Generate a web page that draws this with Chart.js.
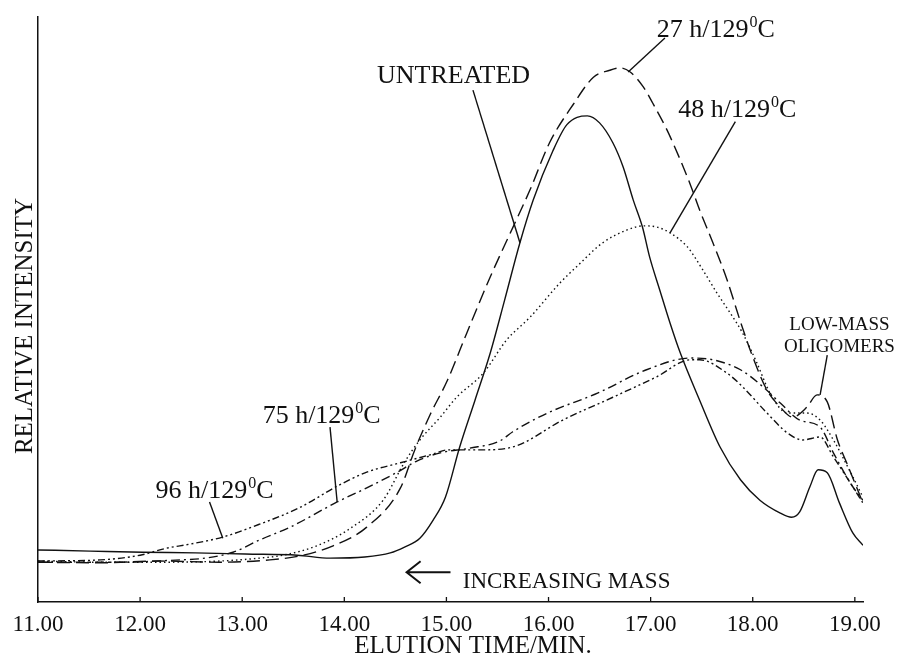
<!DOCTYPE html>
<html>
<head>
<meta charset="utf-8">
<title>Elution profiles</title>
<style>
  html, body { margin: 0; padding: 0; background: #fff; }
  canvas { display: block; }
</style>
<script src="https://cdn.jsdelivr.net/npm/chart.js@4.4.1/dist/chart.umd.min.js"></script>
</head>
<body>
<canvas id="gpc" width="900" height="659"></canvas>
<script>
// elution time (min) / relative intensity, one pair of arrays per sample
const untreatedTime = [11.00, 11.51, 12.03, 12.54, 13.03, 13.54, 13.86, 14.20, 14.45, 14.59, 14.74, 14.87, 14.99, 15.13, 15.28, 15.43, 15.57, 15.72, 15.85, 16.04, 16.18, 16.38, 16.50, 16.63, 16.73, 16.83, 16.92, 16.99, 17.09, 17.19, 17.29, 17.48, 17.68, 17.88, 18.07, 18.27, 18.38, 18.46, 18.56, 18.64, 18.73, 18.85, 18.98, 19.08];
const untreatedIntensity = [8.9, 8.7, 8.5, 8.4, 8.2, 8.0, 7.5, 7.7, 8.4, 9.4, 10.9, 14.0, 17.9, 26.5, 34.5, 42.6, 51.6, 61.4, 68.7, 77.0, 81.6, 83.1, 81.9, 78.5, 74.4, 68.7, 64.1, 59.0, 53.3, 47.7, 42.6, 34.5, 26.5, 20.9, 17.4, 15.2, 14.5, 15.4, 19.7, 22.6, 22.1, 16.9, 11.8, 9.7];

const h27Time = [11.00, 11.61, 12.19, 12.78, 13.27, 13.57, 13.89, 14.22, 14.55, 14.69, 14.84, 15.01, 15.20, 15.43, 15.65, 15.82, 16.01, 16.24, 16.44, 16.60, 16.70, 16.80, 16.93, 17.02, 17.16, 17.29, 17.39, 17.48, 17.61, 17.75, 17.88, 18.00, 18.14, 18.27, 18.39, 18.53, 18.63, 18.73, 18.83, 18.92, 19.08];
const h27Intensity = [6.8, 6.7, 7.0, 6.8, 7.2, 7.9, 9.6, 12.8, 19.5, 26.0, 32.0, 37.9, 46.0, 55.6, 64.0, 70.5, 78.5, 85.0, 89.7, 90.9, 91.3, 90.6, 88.0, 85.3, 80.7, 75.6, 71.3, 67.0, 61.4, 55.0, 47.9, 41.9, 36.2, 33.3, 31.6, 33.3, 35.4, 34.2, 27.7, 23.8, 16.9];

const h48Time = [11.00, 11.61, 12.19, 12.78, 13.17, 13.40, 13.73, 14.06, 14.38, 14.59, 14.74, 14.94, 15.10, 15.36, 15.59, 15.82, 16.11, 16.31, 16.53, 16.77, 16.93, 17.06, 17.19, 17.36, 17.51, 17.65, 17.78, 17.90, 18.04, 18.17, 18.34, 18.53, 18.66, 18.79, 18.98, 19.08];
const h48Intensity = [7.0, 6.8, 6.8, 7.0, 7.5, 8.0, 9.6, 12.6, 17.4, 23.9, 27.7, 31.6, 35.0, 39.1, 44.8, 48.7, 54.5, 57.9, 61.4, 63.6, 64.3, 64.1, 63.1, 60.7, 56.8, 52.8, 49.4, 46.0, 40.9, 35.7, 32.3, 32.3, 31.1, 27.7, 21.4, 17.9];

const h75Time = [11.00, 11.80, 12.39, 12.59, 12.91, 13.17, 13.47, 13.93, 14.22, 14.52, 14.71, 14.94, 15.23, 15.52, 15.65, 15.99, 16.48, 16.96, 17.39, 17.61, 17.88, 18.10, 18.27, 18.46, 18.66, 18.79, 18.98, 19.08];
const h75Intensity = [6.8, 6.8, 7.2, 7.4, 8.5, 10.6, 12.8, 17.1, 19.5, 22.2, 24.1, 25.5, 26.3, 27.5, 29.1, 32.3, 35.7, 39.7, 41.7, 41.4, 39.7, 36.8, 34.0, 31.1, 29.9, 25.5, 19.7, 17.4];

const h96Time = [11.00, 11.61, 12.00, 12.26, 12.49, 12.81, 13.17, 13.57, 13.93, 14.22, 14.55, 14.87, 15.01, 15.33, 15.65, 16.14, 16.63, 17.06, 17.39, 17.48, 17.75, 17.90, 18.14, 18.34, 18.49, 18.66, 18.79, 18.98, 19.08];
const h96Intensity = [7.0, 7.2, 8.0, 9.2, 9.9, 11.1, 13.3, 16.2, 19.8, 22.2, 23.8, 25.3, 26.0, 26.0, 26.5, 31.1, 35.0, 38.5, 41.4, 41.4, 39.1, 36.8, 32.3, 28.9, 27.7, 28.2, 24.8, 19.7, 16.9];

const xTickValues = [11, 12, 13, 14, 15, 16, 17, 18, 19];

const FONT = '"Liberation Serif", "Times New Roman", serif';
const INK = '#111';

// curve labels: text anchor and leader line, all in data units
const curveLabels = [
  { main: 'UNTREATED', at: [14.32, 88.7], from: [15.26, 87.5], to: [15.72, 61.4] },
  { main: '27 h/129', sup: '0', tail: 'C', at: [17.06, 96.6], from: [17.14, 96.4], to: [16.78, 90.6] },
  { main: '48 h/129', sup: '0', tail: 'C', at: [17.27, 82.9], from: [17.83, 82.1], to: [17.19, 63.1] },
  { main: '75 h/129', sup: '0', tail: 'C', at: [13.20, 30.6], from: [13.86, 29.9], to: [13.93, 17.1] },
  { main: '96 h/129', sup: '0', tail: 'C', at: [12.15, 17.8], from: [12.68, 17.1], to: [12.81, 10.9] }
];

function pairs(t, v) {
  return t.map((x, i) => ({ x: x, y: v[i] }));
}

function drawLabel(ctx, l, x, y, size) {
  ctx.textAlign = 'left';
  ctx.textBaseline = 'alphabetic';
  ctx.font = size + 'px ' + FONT;
  ctx.fillText(l.main, x, y);
  let cx = x + ctx.measureText(l.main).width;
  if (l.sup) {
    const s = Math.round(size * 0.62);
    ctx.font = s + 'px ' + FONT;
    ctx.fillText(l.sup, cx + 1, y - size * 0.38);
    cx += ctx.measureText(l.sup).width + 1;
    ctx.font = size + 'px ' + FONT;
    ctx.fillText(l.tail, cx, y);
  }
}

const annotationPlugin = {
  id: 'gpcAnnotations',
  afterDraw(chart) {
    const { ctx, chartArea, scales: { x, y } } = chart;
    const px = t => x.getPixelForValue(t);
    const py = v => y.getPixelForValue(v);
    ctx.save();
    ctx.fillStyle = INK;
    ctx.strokeStyle = INK;

    // inward tick marks on the time axis
    ctx.lineWidth = 1.3;
    xTickValues.forEach(t => {
      ctx.beginPath();
      ctx.moveTo(px(t), chartArea.bottom);
      ctx.lineTo(px(t), chartArea.bottom - 5);
      ctx.stroke();
    });

    curveLabels.forEach(l => {
      ctx.lineWidth = 1.4;
      ctx.beginPath();
      ctx.moveTo(px(l.from[0]), py(l.from[1]));
      ctx.lineTo(px(l.to[0]), py(l.to[1]));
      ctx.stroke();
      drawLabel(ctx, l, px(l.at[0]), py(l.at[1]), 26);
    });

    // oligomer note
    ctx.font = '19px ' + FONT;
    ctx.textAlign = 'center';
    ctx.fillText('LOW-MASS', px(18.85), py(46.5));
    ctx.fillText('OLIGOMERS', px(18.85), py(42.7));
    ctx.lineWidth = 1.4;
    ctx.beginPath();
    ctx.moveTo(px(18.73), py(42.2));
    ctx.lineTo(px(18.66), py(35.4));
    ctx.stroke();

    // direction of increasing mass
    const ay = py(5.1);
    const ax0 = px(15.04), ax1 = px(14.61);
    ctx.lineWidth = 2;
    ctx.beginPath();
    ctx.moveTo(ax0, ay);
    ctx.lineTo(ax1, ay);
    ctx.moveTo(ax1 + 14, ay - 11);
    ctx.lineTo(ax1, ay);
    ctx.lineTo(ax1 + 14, ay + 11);
    ctx.stroke();
    ctx.font = '23px ' + FONT;
    ctx.textAlign = 'left';
    ctx.fillText('INCREASING MASS', px(15.16), py(2.4));

    // axis titles
    ctx.font = '25px ' + FONT;
    ctx.textAlign = 'center';
    ctx.fillText('ELUTION TIME/MIN.', 473, 653);
    ctx.translate(32, 326);
    ctx.rotate(-Math.PI / 2);
    ctx.fillText('RELATIVE INTENSITY', 0, 0);
    ctx.restore();
  }
};

new Chart(document.getElementById('gpc'), {
  type: 'line',
  data: {
    datasets: [
      { label: '96 h/129°C', data: pairs(h96Time, h96Intensity), borderDash: [7, 3, 2, 3, 2, 3] },
      { label: '75 h/129°C', data: pairs(h75Time, h75Intensity), borderDash: [9, 4, 2, 4] },
      { label: '48 h/129°C', data: pairs(h48Time, h48Intensity), borderDash: [1.5, 3] },
      { label: '27 h/129°C', data: pairs(h27Time, h27Intensity), borderDash: [13, 6] },
      { label: 'UNTREATED', data: pairs(untreatedTime, untreatedIntensity) }
    ]
  },
  options: {
    responsive: false,
    animation: false,
    layout: { padding: { top: 17, right: 37, left: 0, bottom: 0 } },
    plugins: { legend: { display: false }, tooltip: { enabled: false } },
    elements: {
      point: { radius: 0 },
      line: { borderColor: INK, borderWidth: 1.4, cubicInterpolationMode: 'monotone', fill: false }
    },
    scales: {
      x: {
        type: 'linear',
        min: 11,
        max: 19.08,
        afterFit: s => { s.height = 57; },
        grid: { display: false, drawTicks: false },
        border: { display: true, color: INK, width: 1.5 },
        ticks: {
          stepSize: 1,
          includeBounds: false,
          autoSkip: false,
          maxRotation: 0,
          padding: 9,
          color: INK,
          font: { family: FONT, size: 23 },
          callback: v => Number(v).toFixed(2)
        }
      },
      y: {
        min: 0,
        max: 100,
        afterFit: s => { s.width = 38; },
        grid: { display: false },
        border: { display: true, color: INK, width: 1.5 },
        ticks: { display: false }
      }
    }
  },
  plugins: [annotationPlugin]
});
</script>
</body>
</html>
